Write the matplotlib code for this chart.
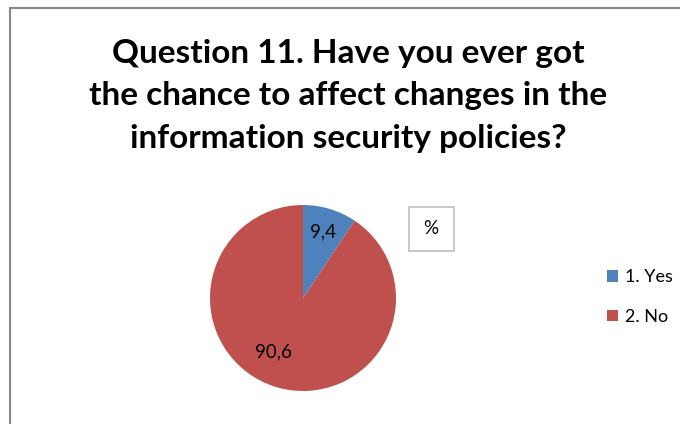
import numpy as np
import matplotlib
matplotlib.use("Agg")
import matplotlib.pyplot as plt
from matplotlib.patches import Rectangle

# Survey answers (percent)
categories = ["1. Yes", "2. No"]
values = [9.4, 90.6]
value_labels = ["9,4", "90,6"]
colors = ["#4F81BD", "#C0504D"]
title = "Question 11. Have you ever got\nthe chance to affect changes in the\ninformation security policies?"

W, H = 680, 424
DPI = 100
plt.rcParams["font.family"] = ["Lato", "DejaVu Sans"]

fig = plt.figure(figsize=(W / DPI, H / DPI), dpi=DPI)
fig.patch.set_facecolor("white")


def px_axes(x0, y0, w, h):
    """Axes placed in pixel coordinates measured from the top-left corner."""
    return fig.add_axes([x0 / W, 1 - (y0 + h) / H, w / W, h / H])


# Chart-area frame (runs off the right and bottom edges)
fig.add_artist(Rectangle((9.5 / W, -0.1), 1.2, 1 - 8.5 / H + 0.1,
                         transform=fig.transFigure, fill=False,
                         edgecolor="#878787", linewidth=1.5))

# Title
fig.text(348 / W, 1 - 96 / H, title, ha="center", va="center",
         fontsize=24, fontweight="bold", color="#000000", linespacing=1.55)

# Pie
ax = px_axes(210, 205, 186, 186)
wedges, _ = ax.pie(values, colors=colors, startangle=90, counterclock=False,
                   radius=1.0, wedgeprops=dict(linewidth=0))
ax.set_xlim(-1, 1)
ax.set_ylim(-1, 1)
ax.set_aspect("equal")
ax.axis("off")

# Value labels placed along each wedge
label_radius = [0.74, 0.66]
label_shift = [0.0, -12.0]
for w, txt, r, shift in zip(wedges, value_labels, label_radius, label_shift):
    mid = np.deg2rad((w.theta1 + w.theta2) / 2 + shift)
    ax.text(r * np.cos(mid), r * np.sin(mid), txt, ha="center", va="center",
            fontsize=13.5, color="#000000")

# "%" box
fig.text(431 / W, 1 - 229 / H, "%", ha="center", va="center", fontsize=13.5,
         color="#000000")
fig.add_artist(Rectangle((408.5 / W, 1 - 251 / H), 45 / W, 44 / H,
                         transform=fig.transFigure, fill=False,
                         edgecolor="#BFBFBF", linewidth=1.2))

# Legend
handles = [Rectangle((0, 0), 1, 1, facecolor=c, edgecolor="none") for c in colors]
fig.legend(handles, categories, loc="center left",
           bbox_to_anchor=(607 / W, 1 - 297 / H), frameon=False,
           fontsize=13, handlelength=0.62, handleheight=0.62,
           handletextpad=0.35, labelspacing=1.3, borderpad=0, borderaxespad=0)

fig.savefig("out.png", dpi=DPI, facecolor="white")
